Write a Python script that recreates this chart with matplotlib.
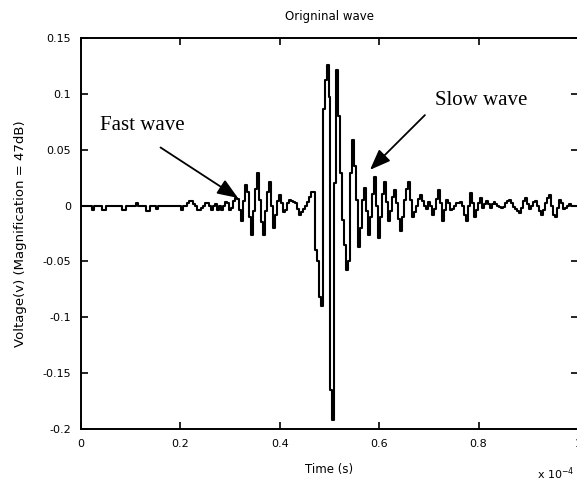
import numpy as np
import matplotlib
matplotlib.use("Agg")
import matplotlib.pyplot as plt

# ---- data (sample spacing 0.004e-4 s) ----
sample_step = 0.004e-4
voltage = [
    0, 0, 0, 0, 0, 0, -0.004, 0, 0, 0,                       # 0-9
    0, -0.004, -0.004, 0, 0, 0, 0, 0, 0, 0,                  # 10-19
    0, -0.004, -0.004, 0, 0, 0, 0, 0, 0.002, 0,              # 20-29
    0, 0, 0, -0.005, -0.005, 0, 0, 0, -0.003, 0,             # 30-39
    0, 0, 0, 0, 0, 0, 0, 0, 0, 0,                            # 40-49
    0, -0.004, 0, 0, 0.002, 0.004, 0.004, 0.001, 0, -0.004,  # 50-59
    -0.004, -0.002, 0, 0.002, 0.002, 0, -0.004, 0, 0.001, -0.004,  # 60-69
    0, -0.004, 0, 0.003, 0.002, -0.004, -0.002, 0.004, 0.007, 0.006,  # 70-79
    -0.004, -0.014, 0.004, 0.018, 0.012, -0.010, -0.026, -0.005, 0.015, 0.029,  # 80-89
    0.005, -0.015, -0.026, -0.005, 0.012, 0.021, 0.000, -0.020, -0.008, 0.004,  # 90-99
    0.0095, 0.002, -0.006, -0.004, 0.002, 0.005, 0.004, 0.003, 0.002, -0.003,  # 100-109
    -0.008, -0.006, -0.003, 0.000, 0.003, 0.008, 0.012, 0.0125, -0.040, -0.050,  # 110-119
    -0.082, -0.090, 0.086, 0.112, 0.126, 0.097, -0.165, -0.192, 0.020, 0.121,  # 120-129
    0.080, 0.029, -0.013, -0.035, -0.058, -0.050, 0.029, 0.059, 0.035, 0.005,  # 130-139
    -0.037, -0.020, 0.005, 0.0155, -0.005, -0.026, -0.010, 0.010, 0.026, 0.000,  # 140-149
    -0.029, -0.010, 0.010, 0.021, 0.003, -0.014, -0.005, 0.008, 0.014, 0.002,  # 150-159
    -0.012, -0.023, -0.010, 0.005, 0.015, 0.021, 0.005, -0.010, -0.006, 0.000,  # 160-169
    0.006, 0.0095, 0.004, 0.000, -0.003, 0.003, 0.000, -0.008, -0.003, 0.006,  # 170-179
    0.014, 0.002, -0.014, -0.004, 0.005, 0.002, -0.004, -0.003, 0.000, 0.002,  # 180-189
    0.002, 0.003, 0.000, -0.008, -0.014, 0.000, 0.011, 0.002, -0.010, -0.004,  # 190-199
    0.002, 0.0065, -0.002, 0.001, 0.004, 0.001, -0.002, 0.001, 0.003, 0.001,  # 200-209
    0.000, -0.001, -0.002, -0.001, 0.002, 0.004, 0.005, 0.002, -0.001, -0.003,  # 210-219
    -0.005, -0.007, -0.002, 0.004, 0.0065, 0.001, -0.003, 0.000, 0.003, 0.004,  # 220-229
    0.000, -0.005, -0.008, -0.004, 0.002, 0.007, 0.0095, 0.000, -0.008, -0.010,  # 230-239
    -0.002, 0.005, 0.002, -0.003, -0.002, 0.000, 0.001, 0.000, 0.000, 0.000,  # 240-249
    0.000,                                                    # 250
]
time_s = np.arange(len(voltage)) * sample_step

x_ticks = [0, 0.2e-4, 0.4e-4, 0.6e-4, 0.8e-4, 1.0e-4]
x_tick_labels = ["0", "0.2", "0.4", "0.6", "0.8", "1"]
y_ticks = [-0.2, -0.15, -0.1, -0.05, 0, 0.05, 0.1, 0.15]
y_tick_labels = ["-0.2", "-0.15", "-0.1", "-0.05", "0", "0.05", "0.1", "0.15"]

title = "Origninal wave"
x_label = "Time (s)"
y_label = "Voltage(v) (Magnification = 47dB)"

# annotations: (text, text position, arrow tail, arrow tip) in data units
fast_label = ("Fast wave", (0.038e-4, 0.072), (0.16e-4, 0.052), (0.316e-4, 0.0068))
slow_label = ("Slow wave", (0.712e-4, 0.094), (0.692e-4, 0.081), (0.5815e-4, 0.032))

# ---- figure ----
W, H = 577, 479
fig = plt.figure(figsize=(W / 100, H / 100), dpi=100)
fig.patch.set_facecolor("white")
ax = fig.add_axes([81 / W, 1 - 429 / H, (578 - 81) / W, (429 - 38) / H])

ax.plot(time_s, voltage, color="black", lw=1.5, drawstyle="steps-mid")

ax.set_xlim(0, 1.0e-4)
ax.set_ylim(-0.2, 0.15)
ax.set_xticks(x_ticks)
ax.set_xticklabels(x_tick_labels)
ax.set_yticks(y_ticks)
ax.set_yticklabels(y_tick_labels)

for s in ax.spines.values():
    s.set_linewidth(1.4)
ax.tick_params(direction="in", length=5, width=1.2, top=True, right=True,
               labelsize=8, pad=7)
for lab in ax.get_xticklabels() + ax.get_yticklabels():
    lab.set_family("DejaVu Sans")

ax.set_title(title, fontsize=8.5, family="DejaVu Sans", pad=13)
ax.set_xlabel(x_label, fontsize=8.5, family="DejaVu Sans", labelpad=10)
ax.set_ylabel(y_label, fontsize=9.5, family="DejaVu Sans", labelpad=11)

fig.text(537 / W, 1 - 474 / H, r"x 10$^{-4}$", fontsize=8, family="DejaVu Sans",
         ha="left", va="center")

for txt, tpos, tail, tip in (fast_label, slow_label):
    ax.text(tpos[0], tpos[1], txt, family="Liberation Serif", fontsize=15,
            ha="left", va="center")
    ax.annotate("", xy=tip, xytext=tail,
                arrowprops=dict(arrowstyle="-|>,head_length=0.9,head_width=0.35",
                                color="black", lw=1.3, shrinkA=0, shrinkB=0,
                                mutation_scale=14))

fig.savefig("out.png", dpi=100)
